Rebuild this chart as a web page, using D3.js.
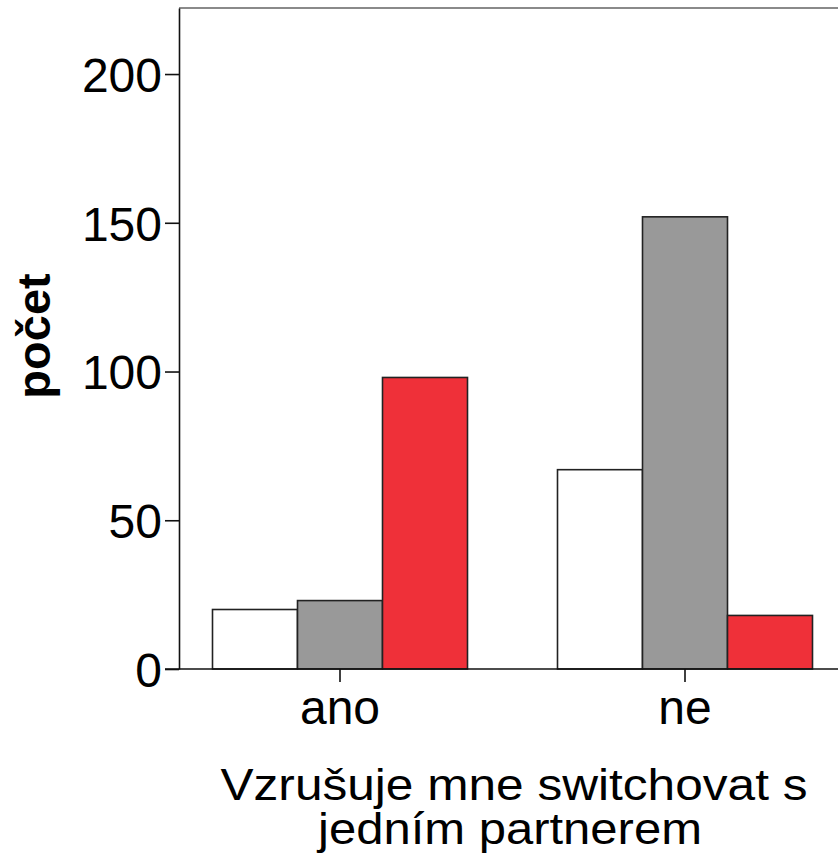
<!DOCTYPE html>
<html>
<head>
<meta charset="utf-8">
<script src="https://cdn.jsdelivr.net/npm/d3@7"></script>
<style>
  body { margin: 0; background: #fff; }
  text { font-family: "Liberation Sans", Arial, sans-serif; fill: #000; }
</style>
</head>
<body>
<div id="canvas"></div>
<script>
// categories on the x axis
const categories = ["ano", "ne"];
// three groups (no legend in the picture)
const groups = ["g1", "g2", "g3"];
const valuesG1 = [20, 67];
const valuesG2 = [23, 152];
const valuesG3 = [98, 18];
const yTicks = [0, 50, 100, 150, 200];
const xTitle = ["Vzrušuje mne switchovat s", "jedním partnerem"];
const yTitle = "počet";
const colors = ["#ffffff", "#999999", "#ef3039"];

const width = 838;
const height = 859;
const margin = {top: 8, left: 179, bottom: 190, right: -20};
const iheight = height - margin.top - margin.bottom;

const svg = d3.select("#canvas").append("svg")
  .attr("width", width)
  .attr("height", height);

const y = d3.scaleLinear()
  .domain([0, 222.2])
  .range([margin.top + iheight, margin.top]);

const x = d3.scaleBand()
  .domain(categories)
  .range([167.5, 857.5]);

const xs = d3.scaleBand()
  .domain(groups)
  .range([45, x.bandwidth() - 45]);

const series = [valuesG1, valuesG2, valuesG3];
const data = [];
categories.forEach((c, i) => {
  groups.forEach((g, j) => {
    data.push({cat: c, grp: g, value: series[j][i], color: colors[j]});
  });
});

// top frame line
svg.append("line")
  .attr("x1", margin.left).attr("x2", width + 30)
  .attr("y1", margin.top).attr("y2", margin.top)
  .attr("stroke", "#8a8a8a")
  .attr("stroke-width", 2);

svg.append("g")
  .selectAll("rect")
  .data(data)
  .enter()
  .append("rect")
  .attr("x", d => x(d.cat) + xs(d.grp))
  .attr("y", d => y(d.value))
  .attr("width", xs.bandwidth())
  .attr("height", d => y(0) - y(d.value))
  .attr("fill", d => d.color)
  .attr("stroke", "#222")
  .attr("stroke-width", 1.6);

// y axis
const yAxis = svg.append("g")
  .attr("transform", `translate(${margin.left}, 0)`)
  .call(d3.axisLeft(y).tickValues(yTicks).tickSize(14).tickPadding(3).tickSizeOuter(0));
yAxis.select(".domain").attr("stroke", "#111").attr("stroke-width", 1.6);
yAxis.selectAll(".tick line").attr("stroke", "#111").attr("stroke-width", 1.6);
yAxis.selectAll(".tick text")
  .attr("font-size", 48)
  .attr("font-family", "Liberation Sans, Arial, sans-serif")
  .attr("dy", "0.36em");

// x axis
const xAxis = svg.append("g")
  .attr("transform", `translate(0, ${y(0)})`)
  .call(d3.axisBottom(x).tickSize(13).tickPadding(8).tickSizeOuter(0));
xAxis.select(".domain").attr("stroke", "#111").attr("stroke-width", 1.6)
  .attr("d", `M${margin.left - 14},0H${width + 30}`);
xAxis.selectAll(".tick text")
  .attr("font-size", 48)
  .attr("font-family", "Liberation Sans, Arial, sans-serif");
xAxis.selectAll(".tick line").attr("stroke", "#111").attr("stroke-width", 1.6);

// x title, two lines (glyphs in the original are wider than Liberation's)
const titleLen = [587, 384];
svg.append("g")
  .selectAll("text")
  .data(xTitle)
  .enter()
  .append("text")
  .attr("x", (d, i) => i === 0 ? 514 : 510)
  .attr("y", (d, i) => 800 + i * 44)
  .attr("text-anchor", "middle")
  .attr("font-size", 44)
  .attr("textLength", (d, i) => titleLen[i])
  .attr("lengthAdjust", "spacingAndGlyphs")
  .text(d => d);

// y title
svg.append("text")
  .attr("transform", "translate(50, 336) rotate(-90)")
  .attr("text-anchor", "middle")
  .attr("font-size", 47)
  .attr("font-weight", "bold")
  .text(yTitle);
</script>
</body>
</html>
